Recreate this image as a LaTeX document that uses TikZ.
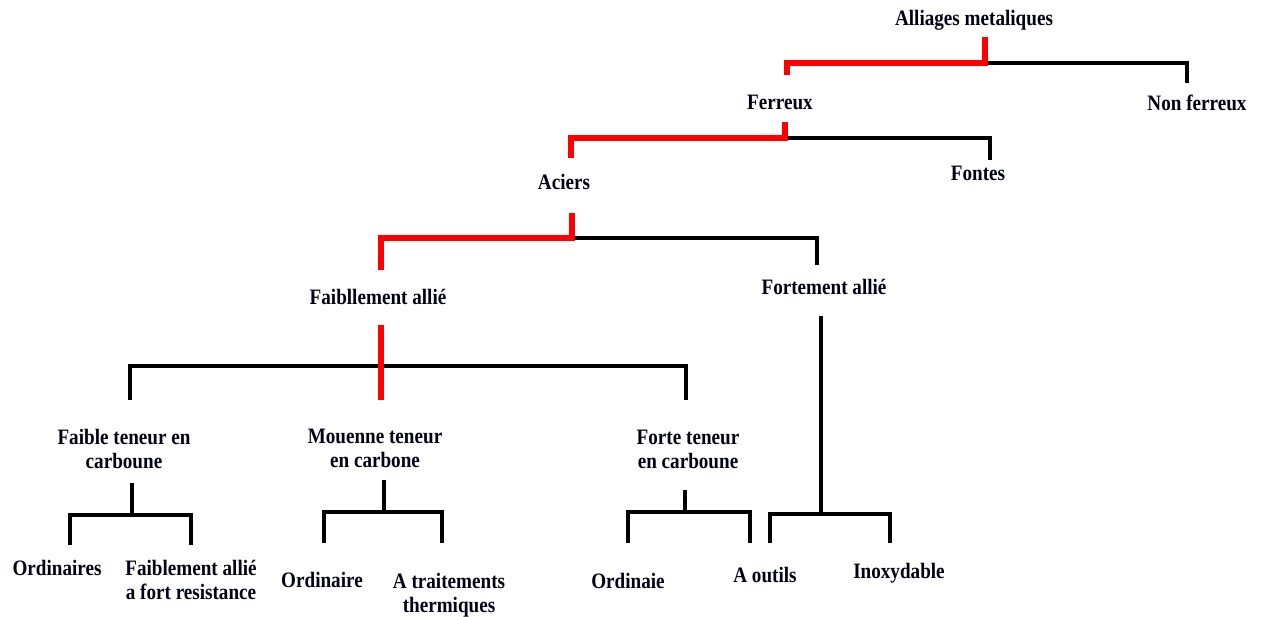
\documentclass[tikz,border=0pt]{standalone}
\usepackage{fontspec}
\setmainfont{Liberation Serif}[FakeStretch=0.87]
\begin{document}
\begin{tikzpicture}[x=1pt,y=-1pt,
  lbl/.style={font=\bfseries\fontsize{22}{24}\selectfont, text=black!92!blue, align=center, inner sep=0pt},
  blk/.style={draw=black, line width=4pt},
  rd/.style={draw=red, line width=6.5pt}]
\useasboundingbox (0,0) rectangle (1261,617);
% labels
\node[lbl] (am) at (974,20) {Alliages metaliques};
\node[lbl] (fer) at (780,102) {Ferreux};
\node[lbl] (nf) at (1197,103) {Non ferreux};
\node[lbl] (fon) at (978,173) {Fontes};
\node[lbl] (aci) at (564,182) {Aciers};
\node[lbl] (fa) at (378,297) {Faibllement allié};
\node[lbl] (fo) at (824,287) {Fortement allié};
\node[lbl] (ft) at (124,449) {Faible teneur en\\carboune};
\node[lbl] (mt) at (375,448) {Mouenne teneur\\en carbone};
\node[lbl] (fc) at (688,449) {Forte teneur\\en carboune};
\node[lbl] (o1) at (57,568) {Ordinaires};
\node[lbl] (fr) at (191,580) {Faiblement allié\\a fort resistance};
\node[lbl] (o2) at (322,580) {Ordinaire};
\node[lbl] (tt) at (449,595) {A traitements\\thermiques};
\node[lbl] (o3) at (628,581) {Ordinaie};
\node[lbl] (ao) at (765,575) {A outils};
\node[lbl] (ix) at (899,573) {Inoxydable};
% junction coordinates
\coordinate (j1) at (985,63);
\coordinate (j2) at (785,138);
\coordinate (j3) at (572,238);
\coordinate (j4) at (381,366);
\coordinate (j5) at (821,514);
\coordinate (j6) at (132,515);
\coordinate (j7) at (384,512);
\coordinate (j8) at (685,512);
% black branches
\draw[blk] (j1) -| (1187,83);
\draw[blk] (j2) -| (990,160);
\draw[blk] (j3) -| (817,265);
\draw[blk] (130,400) |- (686,366) -- (686,400);
\draw[blk] (821,316) -- (j5);
\draw[blk] (770,543) |- (890,514) -- (890,543);
\draw[blk] (132,483) -- (j6);
\draw[blk] (70,545) |- (191,515) -- (191,545);
\draw[blk] (384,480) -- (j7);
\draw[blk] (324,543) |- (442,512) -- (442,543);
\draw[blk] (685,490) -- (j8);
\draw[blk] (628,543) |- (750,512) -- (750,543);
% red path
\draw[rd] (985,37) -- (j1) -| (787,75);
\draw[rd] (785,122) -- (j2) -| (571,158);
\draw[rd] (572,213) -- (j3) -| (381,270);
\draw[rd] (381,325) -- (381,400);
\end{tikzpicture}
\end{document}
